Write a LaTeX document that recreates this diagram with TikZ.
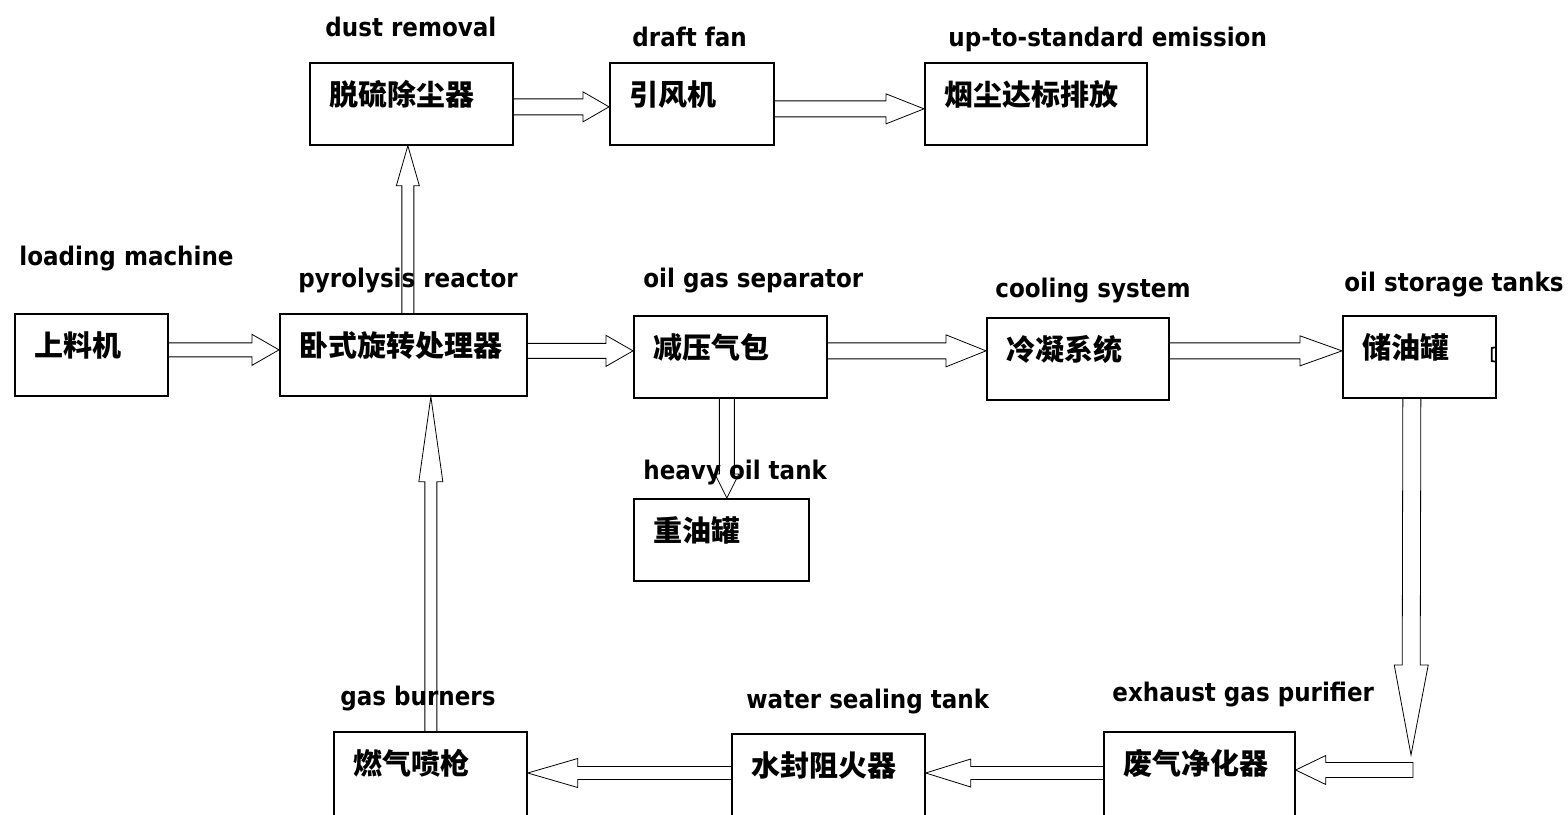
\documentclass[tikz,border=0pt]{standalone}
\usepackage{fontspec}
\newfontfamily\cjk{Noto Sans CJK SC}
\newfontfamily\lab{DejaVu Sans}[FakeStretch=0.9]
\usetikzlibrary{calc, positioning}

\tikzset{
  box/.style={draw, line width=0.85pt, anchor=north west, align=left,
    inner xsep=10pt, inner ysep=0pt, minimum height=41pt,
    text height=10pt, text depth=8pt,
    font=\cjk\bfseries\fontsize{14.5}{16}\selectfont},
  lowbox/.style={box, minimum height=50pt, text depth=17pt},
  lbl/.style={anchor=base west, inner sep=0pt,
    font=\lab\bfseries\fontsize{12.8}{14}\selectfont},
  fat/.style n args={3}{draw=black!85, line width=0.8pt, to path={
    ($(\tikztostart)!#1!90:(\tikztotarget)$)
    -- ($(\tikztotarget)!#3!(\tikztostart)!#1!-90:(\tikztostart)$)
    -- ($(\tikztotarget)!#3!(\tikztostart)!#2!-90:(\tikztostart)$)
    -- (\tikztotarget)
    -- ($(\tikztotarget)!#3!(\tikztostart)!#2!90:(\tikztostart)$)
    -- ($(\tikztotarget)!#3!(\tikztostart)!#1!90:(\tikztostart)$)
    -- ($(\tikztostart)!#1!-90:(\tikztotarget)$)}},
}

\begin{document}
\begin{tikzpicture}[x=0.5pt, y=-0.5pt]
    \path[use as bounding box] (0,0) rectangle (1568,814);
    \clip (0,0) rectangle (1568,814);

    % process boxes
    \foreach \n/\x/\y/\w/\t in {load/14/313/56.5/上料机, reactor/279/313/103.5/卧式旋转处理器,
        sep/633/315/76.5/减压气包, cool/986/317/71/冷凝系统, store/1342/315/56.5/储油罐,
        dust/309/62/81.5/脱硫除尘器, fan/609/62/62/引风机, emit/924/62/91/烟尘达标排放,
        heavy/633/498/67.5/重油罐} {
        \node[box, text width=\w pt] (\n) at (\x,\y) {\t};
    }
    \foreach \n/\x/\y/\w/\t in {burner/333/731/76.5/燃气喷枪, seal/731/733/76.5/水封阻火器,
        purif/1103/731/75.5/废气净化器} {
        \node[lowbox, text width=\w pt] (\n) at (\x,\y) {\t};
    }
    \draw[line width=0.85pt] ($(store.north east)+(0,32)$) -- ++(-5,1) -- ++(0,13) -- ++(5,1);

    % english labels
    \foreach \n/\x/\y/\t in {dustlbl/325/36/dust removal, fanlbl/632/46/draft fan,
        emitlbl/948/46/up-to-standard emission, loadlbl/19/265/loading machine,
        reactlbl/298/287/pyrolysis reactor, seplbl/643/287/oil gas separator,
        coollbl/995/297/cooling system, storelbl/1344/291/oil storage tanks,
        heavylbl/643/479/heavy oil tank, burnlbl/340/705/gas burners,
        seallbl/746/708/water sealing tank, puriflbl/1112/701/exhaust gas purifier} {
        \node[lbl] (\n) at (\x,\y) {\t};
    }

    % flow arrows
    \coordinate (tankdrop) at (1411,755);
    \coordinate (purin) at (1413,770);
    \draw ($(load.east)+(0,-5)$) to[fat={3.5pt}{7.75pt}{13.5pt}] ($(reactor.west)+(0,-5)$);
    \draw ($(reactor.east)+(0,-4)$) to[fat={3.75pt}{7.75pt}{13.5pt}] ($(sep.west)+(0,-6)$);
    \draw ($(sep.east)+(0,-6)$) to[fat={4pt}{8pt}{20pt}] ($(cool.west)+(0,-8)$);
    \draw ($(cool.east)+(0,-8)$) to[fat={4pt}{7.5pt}{21pt}] ($(store.west)+(0,-6)$);
    \draw ($(dust.east)+(0,3)$) to[fat={4pt}{7.5pt}{13pt}] ($(fan.west)+(0,3)$);
    \draw ($(fan.east)+(0,5)$) to[fat={4pt}{7.5pt}{19pt}] ($(emit.west)+(0,5)$);
    \draw ($(reactor.north)+(4.5,0)$) to[fat={3pt}{5.75pt}{20pt}] ($(dust.south)+(-3.5,0)$);
    \draw ($(sep.south)+(-3.5,0)$) to[fat={3.75pt}{6pt}{12pt}] ($(heavy.north)+(5.5,0)$);
    \draw ($(store.south)+(-7.5,0)$) to[fat={4.5pt}{8.5pt}{45pt}] (tankdrop);
    \draw (purin) to[fat={3.75pt}{7.25pt}{15pt}] ($(purif.north east)+(0,39)$) -- cycle;
    \draw ($(purif.north west)+(0,42)$) to[fat={3.25pt}{7pt}{22.5pt}] ($(seal.north east)+(0,40)$);
    \draw ($(seal.north west)+(0,40)$) to[fat={3.25pt}{7.25pt}{25pt}] ($(burner.north east)+(0,42)$);
    \draw ($(burner.north)+(0.5,0)$) to[fat={3pt}{6pt}{42.5pt}] ($(reactor.south)+(27.5,0)$);
\end{tikzpicture}
\end{document}
